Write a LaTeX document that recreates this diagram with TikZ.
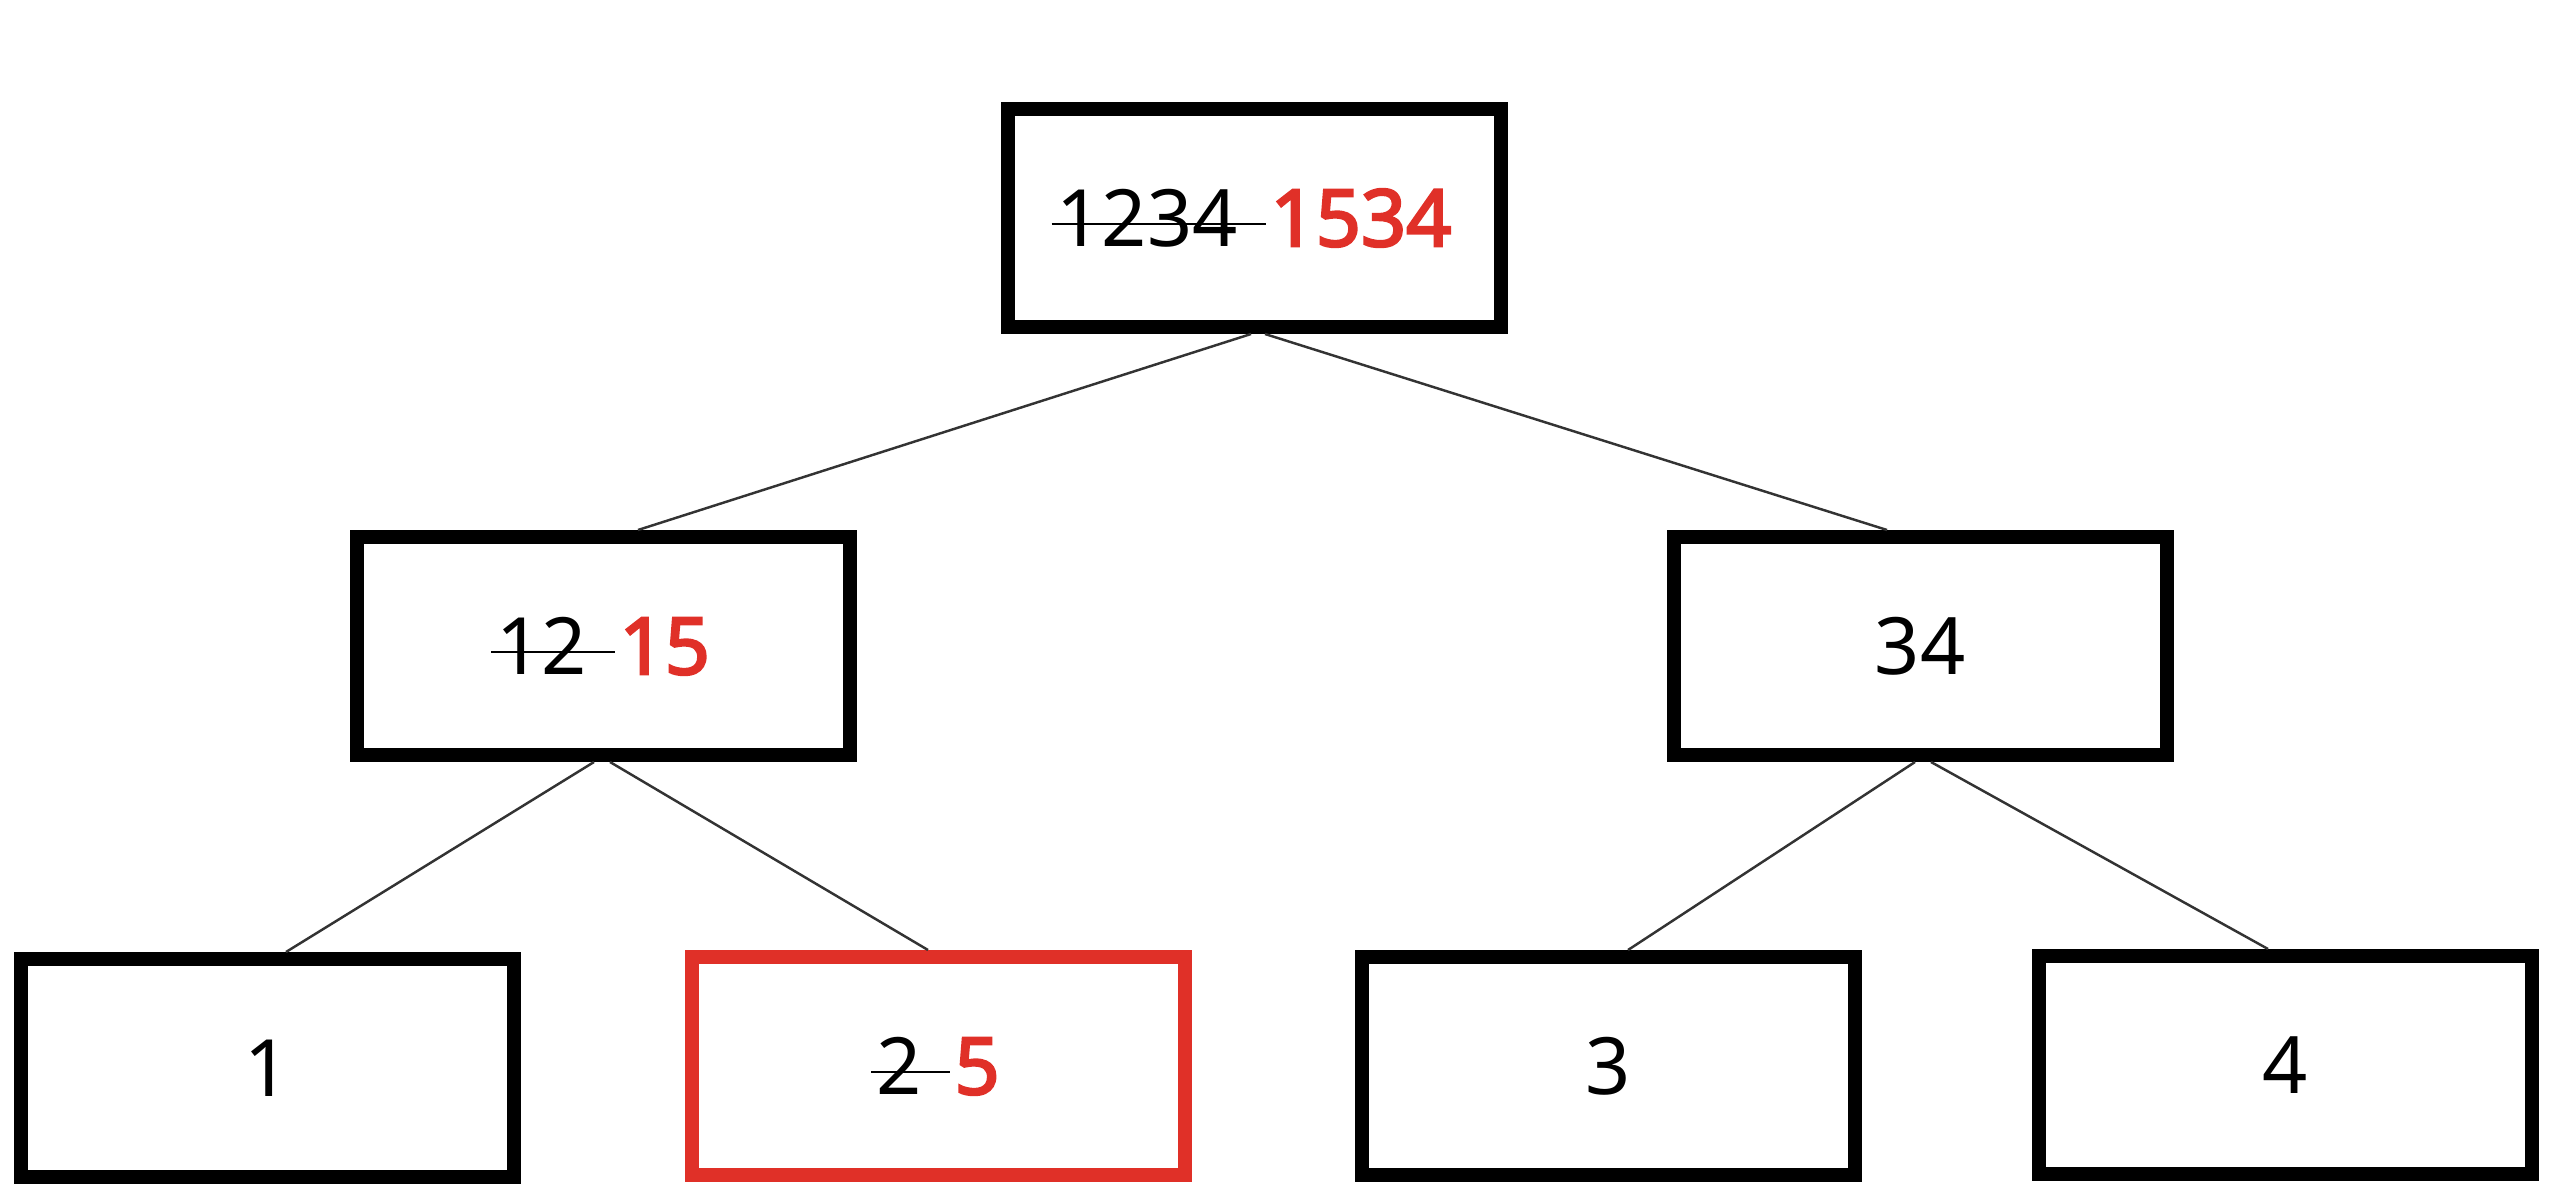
\documentclass[tikz,border=0pt]{standalone}
\usepackage{fontspec}
\setmainfont{Noto Sans}[BoldFont={Noto Sans},BoldFeatures={FakeBold=3}]
\definecolor{hred}{RGB}{224,48,40}
% old value struck through, new value in red
\newcommand{\struck}[1]{\sbox0{#1}\rlap{\kern-0.05cm\rule[0.5ex]{\dimexpr\wd0+0.33cm\relax}{0.7pt}}\usebox0\kern0.33cm}
\newcommand{\newval}[1]{\textcolor{hred}{\bfseries #1}}
\begin{document}
\begin{tikzpicture}[box/.style={draw,line width=0.14cm,minimum width=4.93cm,minimum height=2.18cm,inner sep=0pt,font=\fontsize{22.5}{27}\selectfont},
  hot/.style={box,draw=hred},
  edge/.style={line width=0.7pt,draw=black!80}]
\useasboundingbox (0,0) rectangle (25.66,-12.04);
%\draw[step=1cm,gray,very thin] (0,-12) grid (25,0); %background grid
\node[box] (root) at (12.54,-2.18) {\struck{1234}\newval{1534}};
\node[box] (n12) at (6.03,-6.46) {\struck{12}\newval{15}}; %left half
\node[box] (n34) at (19.20,-6.46) {34}; %right half
\node[box] (n1) at (2.67,-10.68) {1};
\node[hot] (n2) at (9.38,-10.66) {\struck{2}\newval{5}}; %updated leaf
\node[box] (n3) at (16.08,-10.66) {3};
\node[box] (n4) at (22.85,-10.65) {4};
\draw[edge] ([xshift=-0.03cm]root.south) -- ([xshift=0.35cm]n12.north);
\draw[edge] ([xshift=0.11cm]root.south) -- ([xshift=-0.33cm]n34.north);
\draw[edge] ([xshift=-0.09cm]n12.south) -- ([xshift=0.19cm]n1.north);
\draw[edge] ([xshift=0.07cm]n12.south) -- ([xshift=-0.10cm]n2.north);
\draw[edge] ([xshift=-0.05cm]n34.south) -- ([xshift=0.20cm]n3.north);
\draw[edge] ([xshift=0.11cm]n34.south) -- ([xshift=-0.17cm]n4.north);
\end{tikzpicture}
\end{document}
